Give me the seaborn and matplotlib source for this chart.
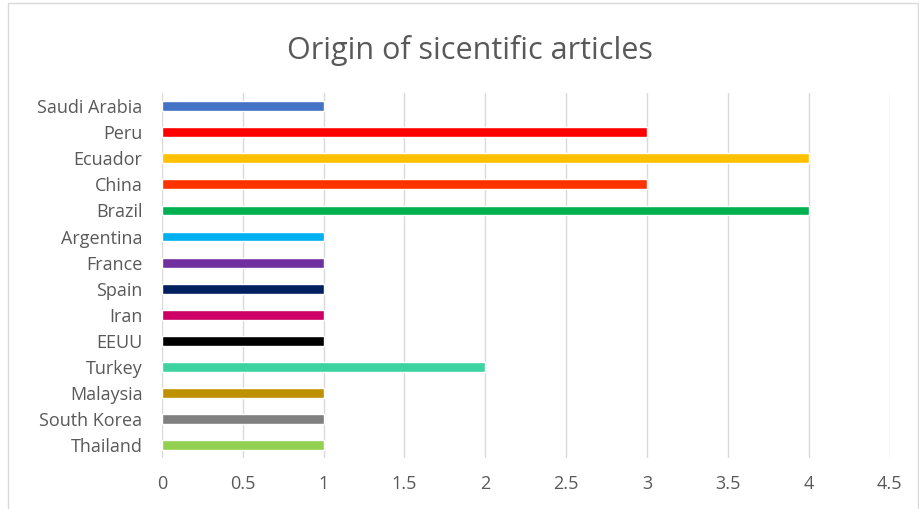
import numpy as np
import pandas as pd
import matplotlib
matplotlib.use('Agg')
import matplotlib.pyplot as plt
import seaborn as sns
from matplotlib.patches import Rectangle

# data (top to bottom)
countries = ['Saudi Arabia', 'Peru', 'Ecuador', 'China', 'Brazil', 'Argentina', 'France',
             'Spain', 'Iran', 'EEUU', 'Turkey', 'Malaysia', 'South Korea', 'Thailand']
articles = [1, 3, 4, 3, 4, 1, 1, 1, 1, 1, 2, 1, 1, 1]
bar_colors = ['#4472C4', '#FF0000', '#FFC000', '#FF3300', '#00B050', '#00B0F0', '#7030A0',
              '#002060', '#CC0066', '#000000', '#3CD3A0', '#BF9000', '#808080', '#92D050']
xticks = [0, 0.5, 1, 1.5, 2, 2.5, 3, 3.5, 4, 4.5]

df = pd.DataFrame({'Country': countries, 'Articles': articles})

sns.set_style('white')
plt.rcParams['font.family'] = ['Open Sans', 'DejaVu Sans']

fig = plt.figure(figsize=(9.2, 5.09), dpi=100)
ax = fig.add_axes([0.176, 0.100, 0.791, 0.717])

sns.barplot(data=df, x='Articles', y='Country', hue='Country', order=countries,
            palette=dict(zip(countries, bar_colors)), legend=False, width=0.38,
            saturation=1, ax=ax, zorder=3)

ax.set_xlim(0, 4.5)
ax.set_xticks(xticks)
ax.set_xticklabels([f'{t:g}' for t in xticks])
ax.grid(axis='x', color='#D9D9D9', linewidth=1, zorder=0)
ax.set_axisbelow(True)
for s in ax.spines.values():
    s.set_visible(False)
ax.set_xlabel('')
ax.set_ylabel('')
ax.tick_params(axis='both', length=0, labelsize=13, labelcolor='#595959')
ax.tick_params(axis='x', pad=12)
ax.tick_params(axis='y', pad=14)

fig.text(0.511, 0.900, 'Origin of sicentific articles', ha='center', va='center',
         fontsize=22, color='#595959')

fig.patches.append(Rectangle((0.009, -0.01), 0.989, 1.005, transform=fig.transFigure,
                             fill=False, edgecolor='#D9D9D9', linewidth=1))

plt.savefig('out.png', dpi=100)
